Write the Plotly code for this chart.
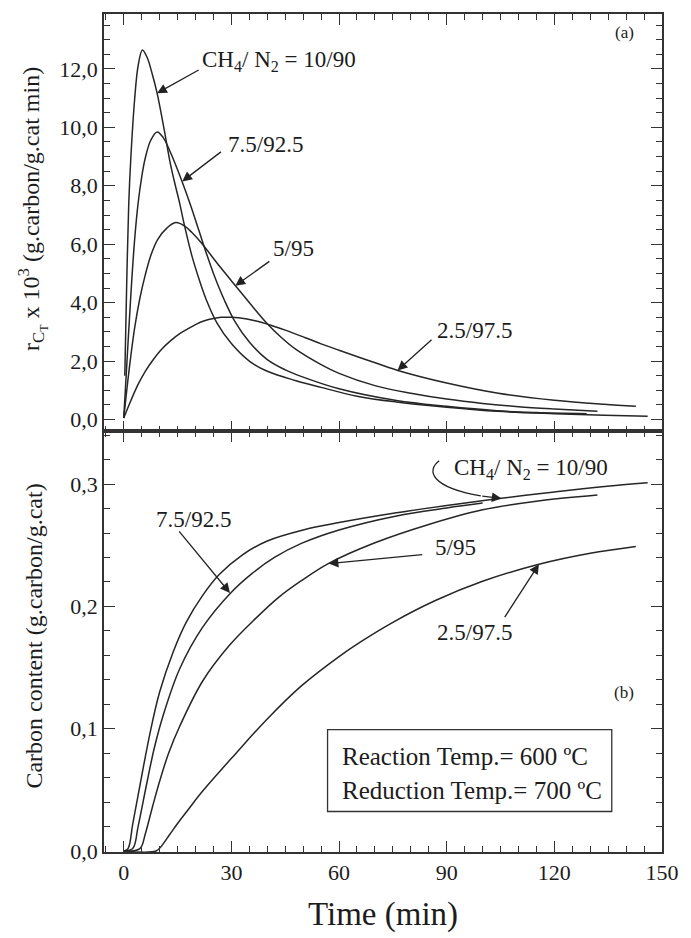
import plotly.graph_objects as go

# ---------------- data ----------------
# (a) rate of carbon formation r x 10^3 (g.carbon/g.cat min)
t_a_10 = [0.3, 0.8, 1.4, 2, 3, 4, 5.2, 6.5, 8, 9.3, 11.4, 13, 14.5, 15.5, 17, 19, 21, 23, 26, 30, 35, 40, 48, 55, 65, 76, 90, 104, 120, 134, 146]
r_a_10 = [1.5, 4.5, 7.4, 9.0, 10.9, 12.1, 12.65, 12.4, 11.8, 11.17, 9.84, 8.75, 7.95, 7.45, 6.6, 5.6, 4.8, 4.1, 3.3, 2.6, 2.0, 1.65, 1.33, 1.1, 0.8, 0.6, 0.42, 0.28, 0.2, 0.15, 0.11]

t_a_75 = [0, 1, 2, 3, 4, 5, 6, 7.5, 9.3, 11, 13, 15, 17, 19, 21, 23, 25, 28, 31, 35, 40, 45, 50, 60, 76, 90, 104, 115, 129]
r_a_75 = [0.05, 2.2, 4.3, 6.1, 7.4, 8.3, 8.95, 9.55, 9.84, 9.65, 9.15, 8.55, 7.9, 7.2, 6.45, 5.7, 5.0, 4.1, 3.35, 2.65, 2.05, 1.7, 1.45, 1.05, 0.65, 0.45, 0.3, 0.24, 0.2]

t_a_5 = [0, 1.5, 3, 4.5, 6, 7.5, 9.4, 12, 14.5, 17, 19, 21.6, 27, 32, 36, 40, 44, 48, 55, 60, 70, 80, 90, 100, 110, 120, 132]
r_a_5 = [0.05, 1.7, 3.1, 4.15, 4.95, 5.6, 6.15, 6.55, 6.74, 6.62, 6.4, 6.05, 5.2, 4.45, 3.85, 3.28, 2.8, 2.4, 1.88, 1.58, 1.16, 0.9, 0.7, 0.55, 0.44, 0.36, 0.28]

t_a_25 = [0, 2, 4, 6, 8.4, 10.5, 13.1, 15.5, 17.8, 20, 22.5, 25, 27.2, 30, 32, 36.6, 41.2, 45, 50.6, 55, 60, 68, 76.4, 90, 104.4, 120, 133.8, 142.7]
r_a_25 = [0.05, 0.65, 1.2, 1.65, 2.08, 2.4, 2.7, 2.93, 3.1, 3.25, 3.38, 3.46, 3.5, 3.5, 3.48, 3.38, 3.22, 3.06, 2.8, 2.59, 2.37, 2.03, 1.68, 1.25, 0.9, 0.66, 0.52, 0.45]

# (b) carbon content (g.carbon/g.cat)
t_b_10 = [0, 1.2, 2.5, 4.6, 7.3, 10, 13.8, 17.4, 22, 26.6, 33, 40, 50, 60, 76, 90, 104, 120, 134, 146]
c_b_10 = [0, 0.002, 0.022, 0.055, 0.096, 0.13, 0.163, 0.187, 0.209, 0.226, 0.242, 0.2535, 0.2625, 0.2685, 0.2765, 0.2825, 0.288, 0.2935, 0.298, 0.301]

t_b_75 = [0, 2.5, 4, 6.4, 8.5, 11, 15.6, 22, 29.8, 35.8, 42, 49.5, 60, 76, 90, 100]
c_b_75 = [0, 0.002, 0.02, 0.055, 0.084, 0.111, 0.149, 0.183, 0.211, 0.227, 0.24, 0.2515, 0.2625, 0.274, 0.2805, 0.2845]

t_b_5 = [0, 4.5, 6, 8, 10, 12.5, 15.6, 22, 29.4, 36.7, 43, 49.5, 57, 70, 85, 100, 115, 132]
c_b_5 = [0, 0.002, 0.014, 0.036, 0.057, 0.08, 0.102, 0.139, 0.168, 0.19, 0.207, 0.221, 0.235, 0.252, 0.267, 0.279, 0.286, 0.291]

t_b_25 = [0, 9, 10.5, 12.8, 15, 18, 22, 31, 40, 49.5, 60, 66, 75, 87, 100, 115.7, 130, 142.7]
c_b_25 = [0, 0.0, 0.004, 0.0135, 0.0225, 0.034, 0.049, 0.079, 0.108, 0.135, 0.159, 0.171, 0.187, 0.205, 0.2205, 0.2345, 0.2435, 0.249]

x_ticks = [0, 30, 60, 90, 120, 150]
ya_ticks = [0, 2, 4, 6, 8, 10, 12]
yb_ticks = [0, 0.1, 0.2, 0.3]

# ---------------- figure ----------------
FONT = "Liberation Serif, Times New Roman, serif"
INK = "#1c1c1c"
LINE = "#262626"

fig = go.Figure()
for tx, ry in [(t_a_10, r_a_10), (t_a_75, r_a_75), (t_a_5, r_a_5), (t_a_25, r_a_25)]:
    fig.add_trace(go.Scatter(x=tx, y=ry, mode="lines", xaxis="x", yaxis="y",
                             line=dict(color=LINE, width=1.5, shape="spline", smoothing=1.0),
                             showlegend=False, hoverinfo="skip"))
for tx, cy in [(t_b_10, c_b_10), (t_b_75, c_b_75), (t_b_5, c_b_5), (t_b_25, c_b_25)]:
    fig.add_trace(go.Scatter(x=tx, y=cy, mode="lines", xaxis="x2", yaxis="y2",
                             line=dict(color=LINE, width=1.5, shape="spline", smoothing=1.0),
                             showlegend=False, hoverinfo="skip"))

split = 0.5018
common_x = dict(range=[-5.5, 150], tickvals=x_ticks, ticks="inside", ticklen=11, tickwidth=1.3,
                tickcolor="#333", showline=True, linecolor="#333", linewidth=1.5, mirror="allticks",
                showgrid=False, zeroline=False,
                minor=dict(dtick=5, tick0=0, ticks="inside", ticklen=6, tickwidth=1.1, tickcolor="#333"))
common_y = dict(ticks="inside", ticklen=11, tickwidth=1.3, tickcolor="#333", showline=True,
                linecolor="#333", linewidth=1.5, mirror="allticks", showgrid=False, zeroline=False,
                tickfont=dict(family=FONT, size=22, color=INK))

fig.update_layout(
    width=691, height=938,
    margin=dict(l=104, r=22, t=13, b=86),
    paper_bgcolor="white", plot_bgcolor="white",
    separators=", ",
    font=dict(family=FONT, color=INK),
    xaxis=dict(domain=[0, 1], anchor="y", showticklabels=False, matches="x2", **common_x),
    xaxis2=dict(domain=[0, 1], anchor="y2", showticklabels=True,
                tickfont=dict(family=FONT, size=22, color=INK), **common_x),
    yaxis=dict(domain=[split, 1], anchor="x", range=[-0.41, 13.88], tickvals=ya_ticks, tickformat=".1f",
               minor=dict(dtick=0.5, tick0=0, ticks="inside", ticklen=6, tickwidth=1.1, tickcolor="#333"),
               **common_y),
    yaxis2=dict(domain=[0, split], anchor="x2", range=[-0.0008, 0.343], tickvals=yb_ticks, tickformat=".1f",
                minor=dict(dtick=0.02, tick0=0, ticks="inside", ticklen=6, tickwidth=1.1, tickcolor="#333"),
                **common_y),
)

# axis titles (placed as paper annotations for exact placement)
fig.add_annotation(text="r<sub>C<sub>T</sub></sub> x 10<sup>3</sup> (g.carbon/g.cat min)",
                   xref="paper", yref="paper", x=-0.127, y=0.7676, textangle=-90, showarrow=False,
                   xanchor="center", yanchor="middle", font=dict(family=FONT, size=24, color=INK))
fig.add_annotation(text="Carbon content (g.carbon/g.cat)",
                   xref="paper", yref="paper", x=-0.125, y=0.2574, textangle=-90, showarrow=False,
                   xanchor="center", yanchor="middle", font=dict(family=FONT, size=24, color=INK))
fig.add_annotation(text="Time (min)", xref="paper", yref="paper", x=0.5, y=-0.0751, showarrow=False,
                   xanchor="center", yanchor="middle", font=dict(family=FONT, size=33, color=INK))


def label(text, x, y, xr, yr, size=23, xanchor="left"):
    fig.add_annotation(text=text, x=x, y=y, xref=xr, yref=yr, showarrow=False,
                       xanchor=xanchor, yanchor="middle", font=dict(family=FONT, size=size, color=INK))


def arrow(tip, tail, xr, yr):
    fig.add_annotation(text="", x=tip[0], y=tip[1], ax=tail[0], ay=tail[1], xref=xr, yref=yr,
                       axref=xr, ayref=yr, showarrow=True, arrowhead=2, arrowsize=1.5,
                       arrowwidth=1.3, arrowcolor="#222", standoff=0, startstandoff=0)


# panel (a)
label("CH<sub>4</sub>/ N<sub>2</sub> = 10/90", 21.3, 12.27, "x", "y")
arrow((9.3, 11.17), (21.3, 11.99), "x", "y")
label("7.5/92.5", 28.5, 9.43, "x", "y")
arrow((16.3, 8.15), (27.5, 9.2), "x", "y")
label("5/95", 41, 5.84, "x", "y")
arrow((31.1, 4.58), (41, 5.45), "x", "y")
label("2.5/97.5", 86.7, 3.03, "x", "y")
arrow((76.3, 1.68), (86.2, 2.78), "x", "y")
label("(a)", 139.5, 13.24, "x", "y", size=17, xanchor="center")

# panel (b)
label("CH<sub>4</sub>/ N<sub>2</sub> = 10/90", 91.4, 0.3127, "x2", "y2")
fig.add_shape(type="path", xref="x2", yref="y2",
              path="M 87.9,0.319 C 84.3,0.311 85.5,0.2975 99.5,0.2903",
              line=dict(color="#222", width=1.3))
arrow((105.3, 0.2883), (99.5, 0.2903), "x2", "y2")
label("7.5/92.5", 8.3, 0.271, "x2", "y2")
arrow((29.6, 0.211), (15.1, 0.2625), "x2", "y2")
label("5/95", 86.2, 0.248, "x2", "y2")
arrow((57.1, 0.235), (83.6, 0.2425), "x2", "y2")
label("2.5/97.5", 86.7, 0.1786, "x2", "y2")
arrow((115.7, 0.2345), (105.9, 0.19), "x2", "y2")
label("(b)", 139.5, 0.13, "x2", "y2", size=17, xanchor="center")

fig.add_shape(type="rect", xref="x2", yref="y2", x0=56.8, x1=136, y0=0.0323, y1=0.0992,
              line=dict(color="#333", width=1.3), fillcolor="rgba(0,0,0,0)")
label("Reaction Temp.= 600 ºC", 60.3, 0.077, "x2", "y2", size=25)
label("Reduction Temp.= 700 ºC", 60.3, 0.0497, "x2", "y2", size=25)

fig.write_html("out.html")
